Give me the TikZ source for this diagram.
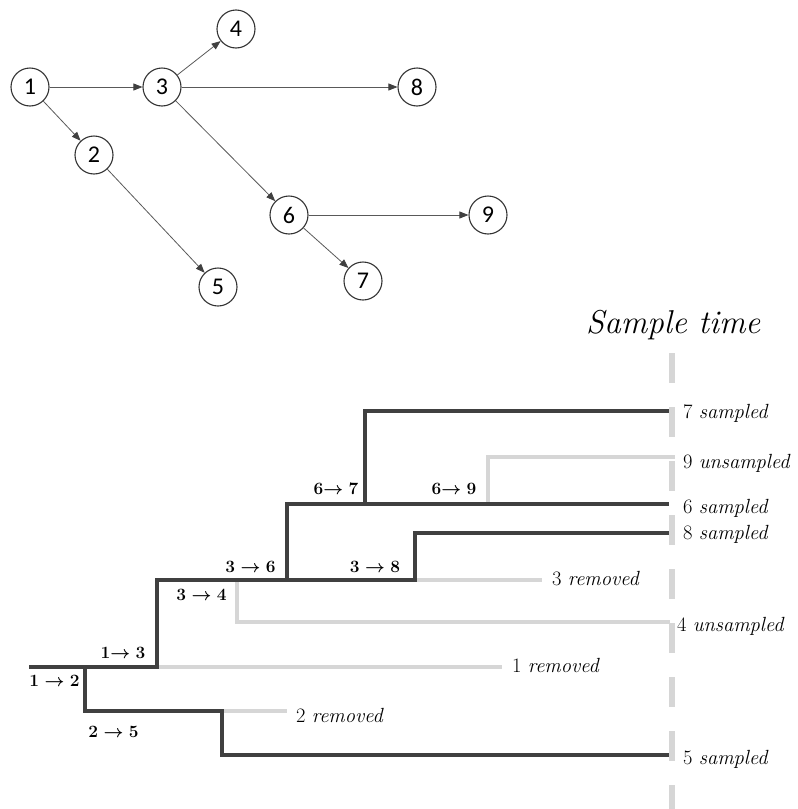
\documentclass[tikz,border=0pt]{standalone}
\usepackage{fontspec}
\newfontfamily\graphfont{Carlito}
\usetikzlibrary{arrows.meta}
\begin{document}
\begin{tikzpicture}[x=1pt,y=-1pt,
  vtx/.style={circle,draw=black!80,line width=1.1pt,minimum size=38pt,inner sep=0pt,
    font=\graphfont\fontsize{24}{24}\selectfont},
  edge/.style={draw=black!65,line width=0.8pt,-{Triangle[length=9pt,width=7pt,color=black!75]}},
  dark/.style={draw=black!75,line width=4pt,line join=miter},
  light/.style={draw=black!16,line width=4pt,line join=miter},
  timeline/.style={draw=black!16,line width=6pt,dash pattern=on 30pt off 24pt},
  evlabel/.style={inner sep=0pt,font=\fontsize{19}{21}\selectfont\boldmath},
  outlabel/.style={anchor=base west,inner sep=0pt,font=\fontsize{20.5}{24}\selectfont},
  titlelabel/.style={anchor=base west,inner sep=0pt,font=\fontsize{33}{38}\selectfont\itshape}]
\useasboundingbox (0,0) rectangle (798,809);
% graph
\node[vtx] (n1) at (30,87) {1};
\node[vtx] (n3) at (162,87) {3};
\node[vtx] (n4) at (236,29) {4};
\node[vtx] (n8) at (417,87) {8};
\node[vtx] (n2) at (94,155) {2};
\node[vtx] (n6) at (289,215) {6};
\node[vtx] (n9) at (488,215) {9};
\node[vtx] (n5) at (218,287) {5};
\node[vtx] (n7) at (363,281) {7};
\draw[edge] (n1) -- (n3);
\draw[edge] (n1) -- (n2);
\draw[edge] (n3) -- (n4);
\draw[edge] (n3) -- (n8);
\draw[edge] (n3) -- (n6);
\draw[edge] (n2) -- (n5);
\draw[edge] (n6) -- (n9);
\draw[edge] (n6) -- (n7);
% sample time
\node[titlelabel] (title) at (586,333) {Sample time};
\coordinate (ttop) at (672,353);
\coordinate (tbot) at (672,809);
\draw[timeline] (ttop) -- (tbot);
% light branches
\draw[light] (157,667) -- (502,667);
\draw[light] (222,711) -- (287,711);
\draw[light] (237,580) -- (237,622) -- (670,622);
\draw[light] (415,580) -- (542,580);
\draw[light] (488,504) -- (488,457) -- (675,457);
% dark branches
\draw[dark] (29,667) -- (157,667) -- (157,580) -- (415,580) -- (415,533) -- (669,533);
\draw[dark] (85,667) -- (85,711) -- (222,711) -- (222,755) -- (669,755);
\draw[dark] (287,580) -- (287,504) -- (669,504);
\draw[dark] (365,504) -- (365,411) -- (669,411);
% event labels
\node[evlabel] (e12) at (54.5,681) {$1\to 2$};
\node[evlabel] (e13) at (123,653) {$1{\to}\;3$};
\node[evlabel] (e34) at (201.5,595) {$3\to 4$};
\node[evlabel] (e36) at (250.5,567) {$3\to 6$};
\node[evlabel] (e38) at (375,567) {$3\to 8$};
\node[evlabel] (e25) at (113.5,732) {$2\to 5$};
\node[evlabel] (e67) at (336,489) {$6{\to}\;7$};
\node[evlabel] (e69) at (454,489) {$6{\to}\;9$};
% outcome labels
\node[outlabel] (o7) at (683,418.5) {7 \textit{sampled}};
\node[outlabel] (o9) at (683,468) {9 \textit{unsampled}};
\node[outlabel] (o6) at (683,513) {6 \textit{sampled}};
\node[outlabel] (o8) at (683,539) {8 \textit{sampled}};
\node[outlabel] (o3) at (552,585) {3 \textit{removed}};
\node[outlabel] (o4) at (677,631) {4 \textit{unsampled}};
\node[outlabel] (o1) at (512,672) {1 \textit{removed}};
\node[outlabel] (o2) at (296,722) {2 \textit{removed}};
\node[outlabel] (o5) at (683,764) {5 \textit{sampled}};
\end{tikzpicture}
\end{document}
